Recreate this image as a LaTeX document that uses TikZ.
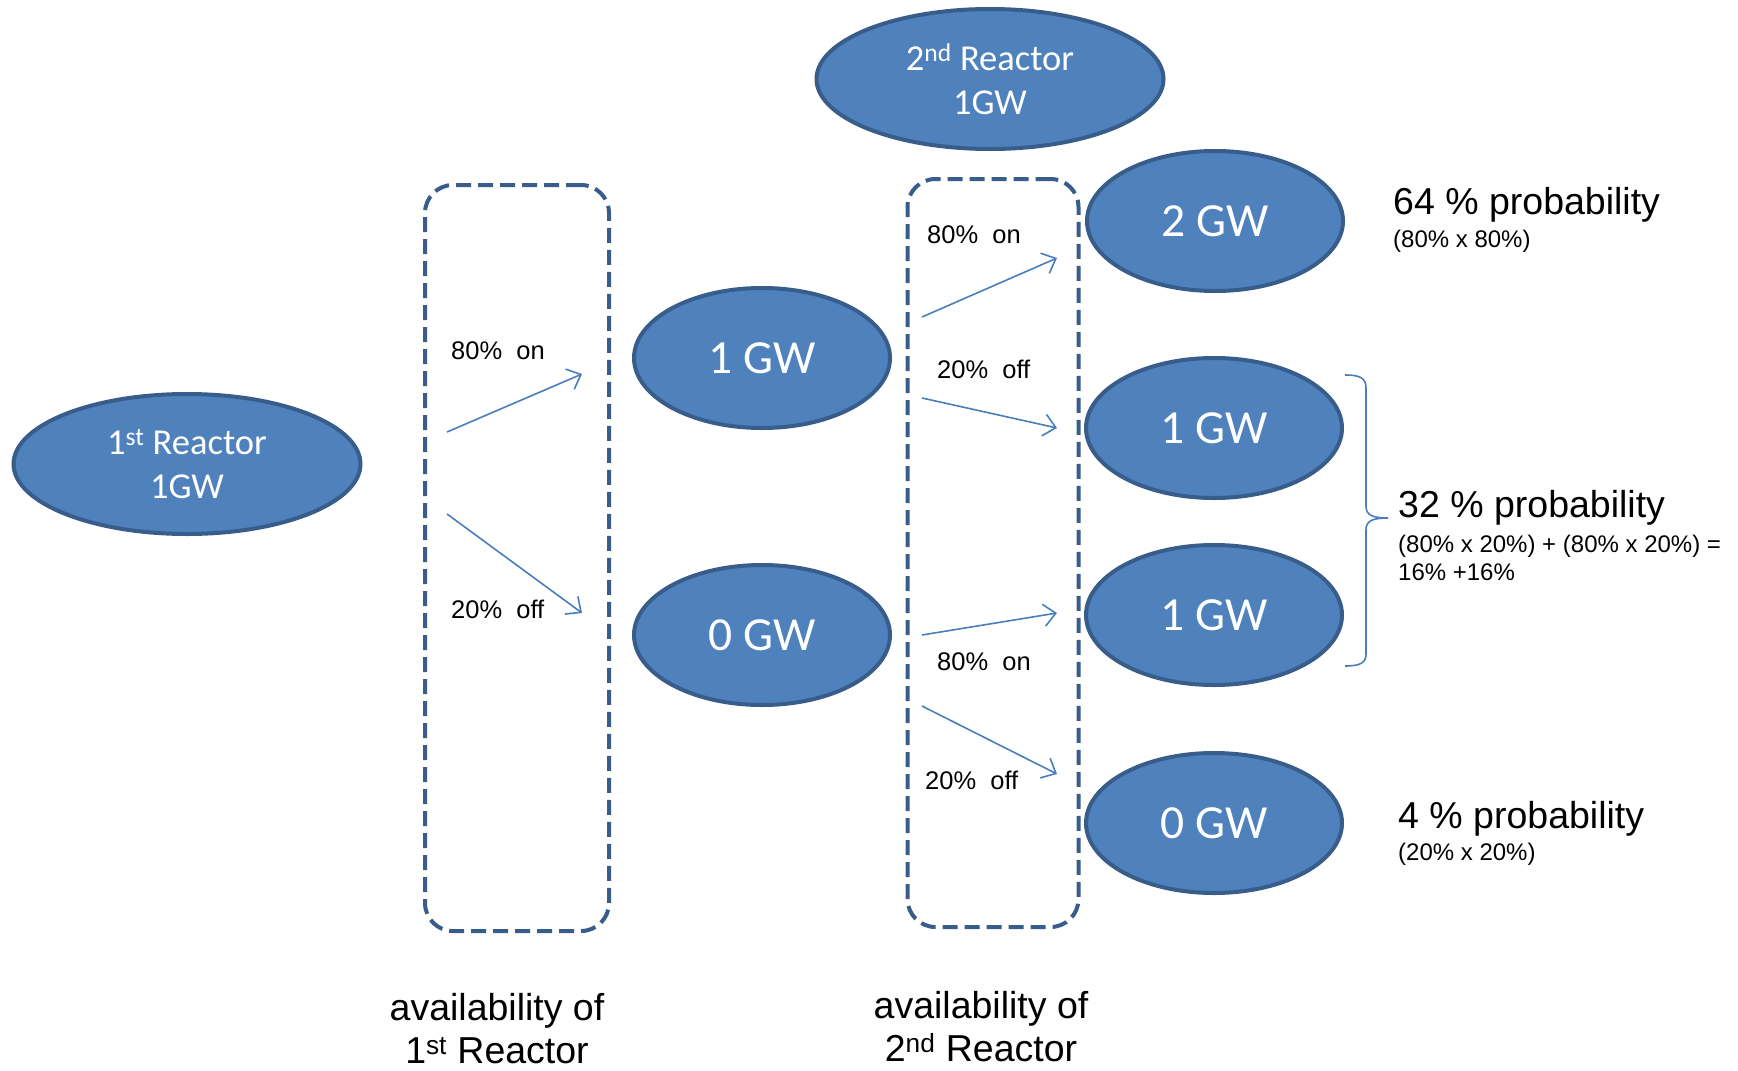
\documentclass[tikz,border=0pt]{standalone}
\usepackage{fontspec}
\setmainfont{Liberation Sans}
\newfontfamily\calib{Carlito}
\usetikzlibrary{shapes.geometric,arrows.meta}
\definecolor{fillblue}{HTML}{4F81BD}
\definecolor{edgeblue}{HTML}{385D8A}
\definecolor{arrblue}{HTML}{4A7EBB}
\begin{document}
\begin{tikzpicture}[x=1pt,y=-1pt,
  oval/.style={ellipse, fill=fillblue, draw=edgeblue, line width=4pt, inner sep=0pt,
    minimum width=256pt, minimum height=140pt, text=white,
    font=\calib\fontsize{47.5}{52}\selectfont, align=center},
  bigoval/.style={oval, minimum width=347pt, font=\calib\fontsize{36.5}{44}\selectfont},
  avail/.style={draw=edgeblue, line width=4pt, dash pattern=on 15pt off 7pt,
    rounded corners=28pt, inner sep=0pt},
  arr/.style={draw=arrblue, line width=1.6pt, -{Straight Barb[length=12pt,width=22pt]}},
  lbl/.style={font=\fontsize{25.5}{30}\selectfont, inner sep=0pt, anchor=west},
  prob/.style={font=\fontsize{37.5}{40}\selectfont, anchor=west, inner sep=0pt},
  subt/.style={font=\fontsize{24}{28}\selectfont, anchor=west, inner sep=0pt, align=left},
  foot/.style={font=\fontsize{37.5}{43}\selectfont, align=center, inner sep=0pt},
  bracestyle/.style={draw=arrblue, line width=1.6pt},
]
\path[use as bounding box] (0,0) rectangle (1738,1071);

% dashed availability boxes
\node[avail, minimum width=184pt, minimum height=746pt] (box1) at (517,558) {};
\node[avail, minimum width=171pt, minimum height=748pt] (box2) at (993,553) {};

% ellipses
\node[bigoval] (r1) at (187,464) {1\textsuperscript{st} Reactor\\1GW};
\node[bigoval] (r2) at (990,79) {2\textsuperscript{nd} Reactor\\1GW};
\node[oval] (m1) at (762,358) {1 GW};
\node[oval] (m0) at (762,635) {0 GW};
\node[oval] (e2) at (1215,221) {2 GW};
\node[oval] (e1a) at (1214,428) {1 GW};
\node[oval] (e1b) at (1214,615) {1 GW};
\node[oval] (e0) at (1214,823) {0 GW};

% arrow end points
\coordinate (a1s) at (447,432); \coordinate (a1e) at (582,374);
\coordinate (a2s) at (447,514); \coordinate (a2e) at (582,613);
\coordinate (b1s) at (922,317); \coordinate (b1e) at (1057,258);
\coordinate (b2s) at (922,398); \coordinate (b2e) at (1057,428);
\coordinate (b3s) at (922,635); \coordinate (b3e) at (1057,613);
\coordinate (b4s) at (922,706); \coordinate (b4e) at (1057,774);

\draw[arr] (a1s) -- (a1e);
\draw[arr] (a2s) -- (a2e);
\draw[arr] (b1s) -- (b1e);
\draw[arr] (b2s) -- (b2e);
\draw[arr] (b3s) -- (b3e);
\draw[arr] (b4s) -- (b4e);

% arrow labels
\node[lbl] (la1) at (451,351) {80\%\ \ on};
\node[lbl] (la2) at (451,609) {20\%\ \ off};
\node[lbl] (lb1) at (927,235) {80\%\ \ on};
\node[lbl] (lb2) at (937,369) {20\%\ \ off};
\node[lbl] (lb3) at (937,662) {80\%\ \ on};
\node[lbl] (lb4) at (925,780) {20\%\ \ off};

% brace
\coordinate (bt) at (1345,375);
\coordinate (bb) at (1345,666);
\coordinate (btip) at (1388,518);
\draw[bracestyle] (bt) .. controls (1360,375) and (1366,378) .. (1366,388)
  -- (1366,506) .. controls (1366,515) and (1372,518) .. (btip)
  .. controls (1372,518) and (1366,521) .. (1366,530)
  -- (1366,654) .. controls (1366,663) and (1360,666) .. (bb);

% probabilities
\node[prob] (p64) at (1393,205) {64 \% probability};
\node[subt] (s64) at (1393,241) {(80\% x 80\%)};
\node[prob] (p32) at (1398,508) {32 \% probability};
\node[subt, anchor=north west] (s32) at (1398,535) {(80\% x 20\%) + (80\% x 20\%) =\\16\% +16\%};
\node[prob] (p4) at (1398,819) {4 \% probability};
\node[subt] (s4) at (1398,854) {(20\% x 20\%)};

% footers
\node[foot] (f1) at (497,1029) {availability of\\1\textsuperscript{st} Reactor};
\node[foot] (f2) at (981,1027) {availability of\\2\textsuperscript{nd} Reactor};
\end{tikzpicture}
\end{document}
